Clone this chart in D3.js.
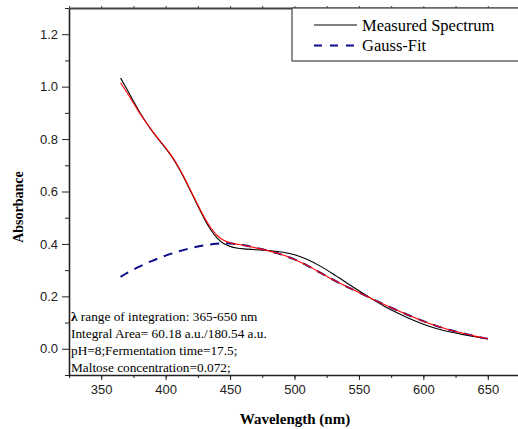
<!DOCTYPE html>
<html>
<head>
<meta charset="utf-8">
<script src="https://cdn.jsdelivr.net/npm/d3@7"></script>
<style>
  body { margin: 0; background: #fff; }
  svg { display: block; }
</style>
</head>
<body>
<script>
// wavelengths (nm) for each sampled point
var wlMeasured = [365, 370, 375, 380, 385, 390, 395, 400, 405, 410, 415, 420, 425, 430, 435, 440, 445, 450, 455, 460, 470, 480, 490, 500, 510, 520, 530, 540, 550, 560, 570, 580, 590, 600, 610, 620, 630, 640, 650];
var measured = [1.033, 0.99, 0.945, 0.90, 0.862, 0.826, 0.795, 0.765, 0.732, 0.692, 0.645, 0.595, 0.545, 0.495, 0.452, 0.42, 0.40, 0.39, 0.384, 0.381, 0.378, 0.375, 0.37, 0.36, 0.342, 0.316, 0.286, 0.253, 0.221, 0.19, 0.161, 0.136, 0.113, 0.093, 0.077, 0.064, 0.055, 0.046, 0.038];
var fitTotal = [1.015, 0.978, 0.938, 0.897, 0.862, 0.828, 0.797, 0.767, 0.734, 0.695, 0.648, 0.598, 0.548, 0.50, 0.46, 0.43, 0.413, 0.404, 0.399, 0.395, 0.385, 0.374, 0.36, 0.342, 0.318, 0.29, 0.263, 0.238, 0.215, 0.191, 0.168, 0.146, 0.125, 0.105, 0.087, 0.072, 0.06, 0.048, 0.038];

var wlGauss = [365, 370, 380, 390, 400, 410, 420, 430, 440, 445, 450, 460, 470, 480, 490, 500, 510, 520, 530, 540, 550, 560, 570, 580, 590, 600, 610, 620, 630, 640, 650];
var gauss = [0.274, 0.29, 0.315, 0.337, 0.356, 0.372, 0.385, 0.395, 0.401, 0.403, 0.403, 0.396, 0.386, 0.374, 0.36, 0.342, 0.318, 0.29, 0.263, 0.238, 0.215, 0.191, 0.168, 0.146, 0.125, 0.105, 0.087, 0.072, 0.06, 0.048, 0.038];

var xTicks = [350, 400, 450, 500, 550, 600, 650];
var yTicks = [0.0, 0.2, 0.4, 0.6, 0.8, 1.0, 1.2];
var legendLabels = ["Measured Spectrum", "Gauss-Fit"];
var noteLines = [
  " range of integration: 365-650 nm",
  "Integral Area= 60.18 a.u./180.54 a.u.",
  "pH=8;Fermentation time=17.5;",
  "Maltose concentration=0.072;"
];

var W = 518, H = 429;
var m = {left: 69, top: 8, right: -2, bottom: 54};

var svg = d3.select("body").append("svg")
    .attr("width", W)
    .attr("height", H);

var x = d3.scaleLinear().domain([325, 675]).range([m.left, W - m.right]);
var y = d3.scaleLinear().domain([-0.1, 1.3]).range([H - m.bottom, m.top]);

var axisColor = "#222";

// bottom axis: minor ticks every 25 nm
svg.append("g")
    .attr("transform", "translate(0," + y(-0.1) + ")")
    .call(d3.axisBottom(x).tickValues(d3.range(325, 676, 25)).tickSize(3).tickFormat(""))
    .call(function(g) { g.select(".domain").remove(); })
    .selectAll("line").attr("stroke", axisColor);

svg.append("g")
    .attr("class", "xaxis")
    .attr("transform", "translate(0," + y(-0.1) + ")")
    .call(d3.axisBottom(x).tickValues(xTicks).tickSize(5).tickSizeOuter(0).tickPadding(5).tickFormat(d3.format("d")))
    .call(function(g) {
      g.select(".domain").attr("stroke", axisColor).attr("stroke-width", 1.6);
      g.selectAll("line").attr("stroke", axisColor);
      g.selectAll("text").attr("font-family", "Liberation Sans, Arial, sans-serif")
        .attr("font-size", 13).attr("fill", "#222");
    });

// top axis
svg.append("g")
    .attr("transform", "translate(0," + y(1.3) + ")")
    .call(d3.axisTop(x).tickValues(d3.range(325, 676, 25)).tickSize(2).tickSizeOuter(0).tickFormat(""))
    .call(function(g) {
      g.select(".domain").attr("stroke", "#444").attr("stroke-width", 2);
      g.selectAll("line").attr("stroke", "#444");
    });

// left axis: minor ticks every 0.1
svg.append("g")
    .attr("transform", "translate(" + x(325) + ",0)")
    .call(d3.axisLeft(y).tickValues(d3.range(-0.1, 1.31, 0.2)).tickSize(4).tickFormat(""))
    .call(function(g) { g.select(".domain").remove(); })
    .selectAll("line").attr("stroke", axisColor);

svg.append("g")
    .attr("transform", "translate(" + x(325) + ",0)")
    .call(d3.axisLeft(y).tickValues(yTicks).tickSize(7).tickSizeOuter(0).tickPadding(4).tickFormat(d3.format(".1f")))
    .call(function(g) {
      g.select(".domain").attr("stroke", axisColor).attr("stroke-width", 1.6);
      g.selectAll("line").attr("stroke", axisColor);
      g.selectAll("text").attr("font-family", "Liberation Sans, Arial, sans-serif")
        .attr("font-size", 13).attr("fill", "#222");
    });

// axis titles
svg.append("text")
    .attr("x", 295).attr("y", 424)
    .attr("text-anchor", "middle")
    .attr("font-family", "Liberation Serif, Times New Roman, serif")
    .attr("font-weight", "bold")
    .attr("font-size", 15)
    .text("Wavelength (nm)");

svg.append("text")
    .attr("transform", "translate(23,207) rotate(-90)")
    .attr("text-anchor", "middle")
    .attr("font-family", "Liberation Serif, Times New Roman, serif")
    .attr("font-weight", "bold")
    .attr("font-size", 14)
    .text("Absorbance");

// curves
var line = d3.line()
    .x(function(d) { return x(d[0]); })
    .y(function(d) { return y(d[1]); })
    .curve(d3.curveBasis);

svg.append("path")
    .datum(d3.zip(wlMeasured, measured))
    .attr("d", line)
    .attr("fill", "none")
    .attr("stroke", "#000")
    .attr("stroke-width", 1.1);

svg.append("path")
    .datum(d3.zip(wlGauss, gauss))
    .attr("d", line)
    .attr("fill", "none")
    .attr("stroke", "#0a0a8a")
    .attr("stroke-width", 2)
    .attr("stroke-dasharray", "9,7");

svg.append("path")
    .datum(d3.zip(wlMeasured, fitTotal))
    .attr("d", line)
    .attr("fill", "none")
    .attr("stroke", "#ff0000")
    .attr("stroke-width", 1.1);

// legend
var lg = svg.append("g");
lg.append("rect")
    .attr("x", 292).attr("y", 8)
    .attr("width", 240).attr("height", 53)
    .attr("fill", "#fff")
    .attr("stroke", "#444")
    .attr("stroke-width", 1.2);

lg.selectAll("line.leg")
    .data(legendLabels)
    .enter().append("line")
    .attr("class", "leg")
    .attr("x1", 314).attr("x2", 357)
    .attr("y1", function(d, i) { return 25 + i * 20.5; })
    .attr("y2", function(d, i) { return 25 + i * 20.5; })
    .attr("stroke", function(d, i) { return i === 0 ? "#000" : "#0a0a8a"; })
    .attr("stroke-width", function(d, i) { return i === 0 ? 1.1 : 2; })
    .attr("stroke-dasharray", function(d, i) { return i === 0 ? null : "8,8"; });

lg.selectAll("text")
    .data(legendLabels)
    .enter().append("text")
    .attr("x", 362)
    .attr("y", function(d, i) { return 30.5 + i * 20.5; })
    .attr("font-family", "Liberation Serif, Times New Roman, serif")
    .attr("font-size", 16.5)
    .text(function(d) { return d; });

// notes
var notes = svg.append("g")
    .attr("font-family", "Liberation Serif, Times New Roman, serif")
    .attr("font-size", 13.3);

notes.selectAll("text")
    .data(noteLines)
    .enter().append("text")
    .attr("x", 71)
    .attr("y", function(d, i) { return 321 + i * 17; })
    .each(function(d, i) {
      var t = d3.select(this);
      if (i === 0) {
        t.append("tspan").attr("font-weight", "bold").text("λ");
      }
      t.append("tspan").text(d);
    });
</script>
</body>
</html>
